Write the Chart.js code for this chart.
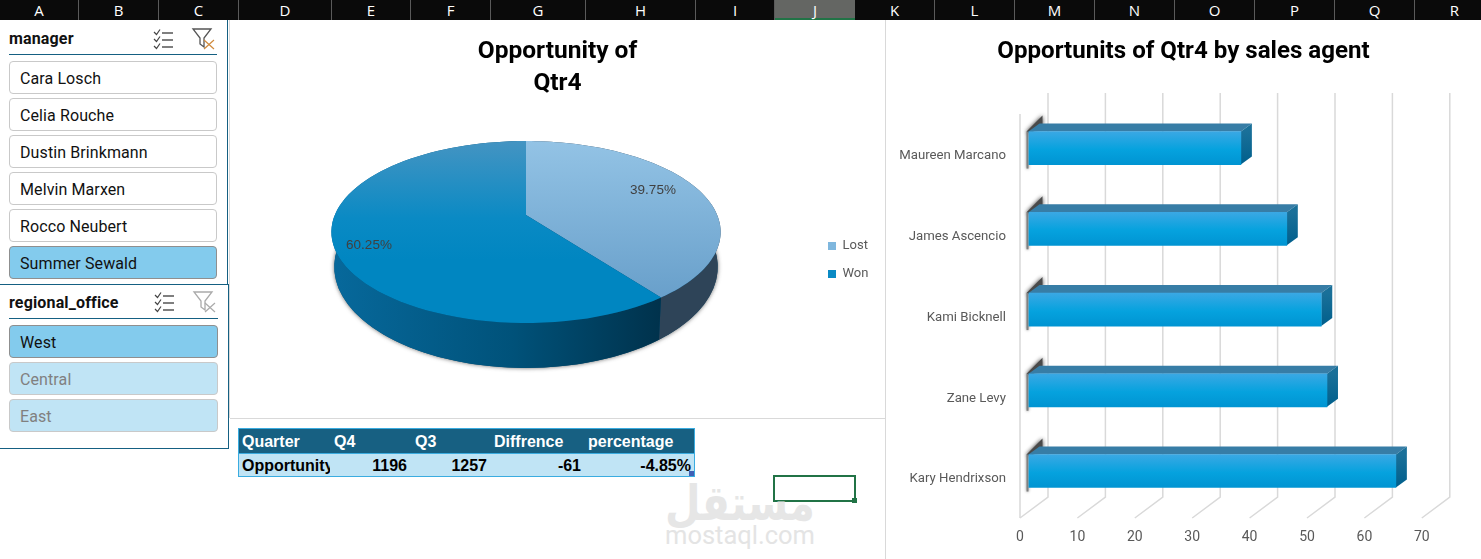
<!DOCTYPE html>
<html>
<head>
<meta charset="utf-8">
<title>Opportunity of Qtr4</title>
<script src="https://cdn.jsdelivr.net/npm/chart.js@4"></script>
<style>
  html, body { margin: 0; padding: 0; background: #fff; overflow: hidden; }
  #hoja { position: relative; width: 1481px; height: 559px; font-family: Roboto, sans-serif; overflow: hidden; }
  #hoja div, #hoja canvas, #hoja svg { position: absolute; }
  .col { top: 0; height: 20px; line-height: 20px; background: #0a0a0a; color: #fff; text-align: center;
         font: 15px/21px "Open Sans", sans-serif; box-sizing: border-box; border-right: 1px solid #5a5a5a; }
  .col.activa { background: #646663; border-right: 0; border-bottom: 2px solid #217346; }
  .item { box-sizing: border-box; height: 33px; border: 1px solid #c9c9c9; border-radius: 4px; padding-left: 10px;
          font-size: 16px; line-height: 34px; color: #111; background: #fff; letter-spacing: .1px; }
  .item.sel { background: #83cbed; border-color: #8f8f8f; }
  .item.off { background: #c0e4f5; color: #808080; }
  .slicerTitulo { font-weight: 700; font-size: 16px; color: #111; left: 9px; letter-spacing: .15px; }
  .celda { font: 700 16px/26px "Liberation Sans Narrow", sans-serif; white-space: nowrap; }
</style>
</head>
<body>
<div id="hoja">
  <canvas id="graficoPie" width="655" height="398" style="left:230px;top:20px"></canvas>
  <canvas id="graficoBarras" width="595" height="539" style="left:886px;top:20px"></canvas>
</div>

<script>
// datos de los graficos
const estados = ['Lost', 'Won'];
const porcentajes = [39.75, 60.25];

const agentes = ['Maureen Marcano', 'James Ascencio', 'Kami Bicknell', 'Zane Levy', 'Kary Hendrixson'];
const oportunidades = [37, 45, 51, 52, 64];
const oportunidadesTicks = [0, 10, 20, 30, 40, 50, 60, 70];

// segmentadores y tabla
const columnas = ['A','B','C','D','E','F','G','H','I','J','K','L','M','N','O','P','Q','R'];
const bordesColumnas = [0,79,159,239,332,411,491,586,696,775,855,935,1015,1095,1175,1255,1335,1415,1495];
const managers = ['Cara Losch', 'Celia Rouche', 'Dustin Brinkmann', 'Melvin Marxen', 'Rocco Neubert', 'Summer Sewald'];
const oficinas = ['West', 'Central', 'East'];
const encabezadoTabla = ['Quarter', 'Q4', 'Q3', 'Diffrence', 'percentage'];
const filaTabla = ['Opportunity', '1196', '1257', '-61', '-4.85%'];

const hoja = document.getElementById('hoja');

function caja(estilo, texto, clase) {
    const d = document.createElement('div');
    d.style.cssText = estilo;
    if (clase) d.className = clase;
    if (texto) d.textContent = texto;
    hoja.appendChild(d);
    return d;
}

// encabezado de columnas
columnas.forEach((c, i) => {
    const l = bordesColumnas[i], w = bordesColumnas[i + 1] - l;
    caja(`left:${l}px;width:${w}px`, c, c === 'J' ? 'col activa' : 'col');
});

// lineas de los paneles
caja('left:229px;top:20px;width:1px;height:398px;background:#d9d9d9');
caja('left:230px;top:418px;width:656px;height:1px;background:#d9d9d9');
caja('left:885px;top:20px;width:1px;height:539px;background:#d9d9d9');

// segmentador manager
caja('left:227px;top:20px;width:1px;height:264px;background:#156082');
caja('top:29px', 'manager', 'slicerTitulo');
caja('left:9px;top:54px;width:208px;height:1px;background:#156082');
managers.forEach((m, i) => {
    caja(`left:9px;top:${61 + i * 37}px;width:208px`, m, i === 5 ? 'item sel' : 'item');
});

// segmentador regional_office
caja('left:0;top:284px;width:228px;height:163px;border:1px solid #156082;border-left:0;background:#fff');
caja('top:293px', 'regional_office', 'slicerTitulo');
caja('left:9px;top:318px;width:209px;height:1px;background:#156082');
oficinas.forEach((o, i) => {
    caja(`left:9px;top:${325 + i * 37}px;width:209px`, o, i === 0 ? 'item sel' : 'item off');
});

// iconos de los segmentadores
function iconos(x, y, colorFiltro, colorX) {
    const svg = `<svg xmlns="http://www.w3.org/2000/svg" width="64" height="22" style="left:${x}px;top:${y}px;position:absolute">
      <path d="M1 4l2.5 2.5L7 1.5M1 11l2.5 2.5L7 8.5M1 18l2.5 2.5L7 15.5" fill="none" stroke="#444" stroke-width="1.2"/>
      <path d="M9 5h11M9 12h11M9 19h11" stroke="#555" stroke-width="1.6"/>
      <path d="M40 1h18l-7 9v9l-4-3v-6z" fill="none" stroke="${colorFiltro}" stroke-width="1.3"/>
      <path d="M51 12l10 9M61 12l-10 9" stroke="${colorX}" stroke-width="1.2"/>
    </svg>`;
    hoja.insertAdjacentHTML('beforeend', svg);
}
iconos(153, 28, '#555', '#d08a3c');
iconos(154, 291, '#aaa', '#aaa');

// tabla Q4 vs Q3
caja('left:238px;top:428px;width:457px;height:25px;background:#176082;border:1px solid #3aace0;border-bottom:0;box-sizing:border-box');
caja('left:238px;top:453px;width:457px;height:24px;background:#c0e4f5;border:1px solid #3aace0;box-sizing:border-box');
const xEncabezado = [242, 334, 415, 494, 588];
encabezadoTabla.forEach((t, i) => {
    caja(`left:${xEncabezado[i]}px;top:429px;color:#fff`, t, 'celda');
});
const derechaFila = [0, 1074, 994, 900, 790];
filaTabla.forEach((t, i) => {
    if (i === 0) caja('left:242px;top:453px;width:88px;overflow:hidden;color:#000', t, 'celda');
    else caja(`right:${derechaFila[i]}px;top:453px;color:#000`, t, 'celda');
});
caja('left:689px;top:471px;width:5px;height:5px;background:#3f5fb5');

// celda activa
caja('left:773px;top:475px;width:83px;height:27px;border:2px solid #217346;box-sizing:border-box');
caja('left:852px;top:498px;width:5px;height:5px;background:#217346');

// marca de agua
caja('left:664px;top:478px;width:152px;text-align:center;color:#e6e6e6;font:700 41px/50px "DejaVu Sans",sans-serif;transform:scaleY(1.2)', 'مستقل');
caja('left:640px;top:521px;width:200px;text-align:center;color:#e4e4e4;font:400 25.5px/28px Roboto,sans-serif', 'mostaql.com');

// ---- pie con perspectiva ----
const pieCentroX = 296, pieCentroY = 195;   // vertice del pie dentro del canvas
const pieFuga = 0.187, pieRadioX = 191.2, pieRadioY = 87.8;
const pieAlto = 97.5 / 87.8;

function puntoPie(angulo, base) {
    const u = Math.cos(angulo), v = Math.sin(angulo);
    const w = 1 - pieFuga * v;
    if (base) {
        return [pieCentroX + 0.985 * pieRadioX * u / w, pieCentroY + 33 + pieRadioY * pieAlto * v / w];
    }
    return [pieCentroX + pieRadioX * u / w, pieCentroY + pieRadioY * v / w];
}

function trazarBorde(ctx, ini, fin, base) {
    const pasos = 80;
    for (let i = 0; i <= pasos; i++) {
        const p = puntoPie(ini + (fin - ini) * i / pasos, base);
        ctx.lineTo(p[0], p[1]);
    }
}

const pie3d = {
    id: 'pie3d',
    afterLayout(chart) {
        // leyenda a la altura de la base del pie
        const l = chart.legend;
        l.left = 583; l.right = 650;
        l.top += 41; l.bottom += 41;
    },
    beforeDatasetsDraw(chart) {
        const ctx = chart.ctx;
        const arcos = chart.getDatasetMeta(0).data;

        // sombra bajo la pared
        ctx.save();
        ctx.shadowColor = 'rgba(60,60,60,.8)';
        ctx.shadowBlur = 4;
        ctx.fillStyle = '#00486e';
        ctx.beginPath();
        trazarBorde(ctx, 0, Math.PI * 2, true);
        ctx.fill();
        ctx.restore();

        // paredes
        const gradPared = ctx.createLinearGradient(100, 0, 430, 0);
        gradPared.addColorStop(0, '#07699c');
        gradPared.addColorStop(0.55, '#00527a');
        gradPared.addColorStop(1, '#00324c');
        const paredes = ['#2e4458', gradPared];
        arcos.forEach((a, i) => {
            ctx.beginPath();
            trazarBorde(ctx, a.startAngle, a.endAngle, false);
            trazarBorde(ctx, a.endAngle, a.startAngle, true);
            ctx.closePath();
            ctx.fillStyle = paredes[i];
            ctx.fill();
        });

        // cara superior
        const gradLost = ctx.createLinearGradient(0, 121, 0, 280);
        gradLost.addColorStop(0, '#93c3e5');
        gradLost.addColorStop(1, '#689fca');
        const gradWon = ctx.createLinearGradient(0, 121, 0, 240);
        gradWon.addColorStop(0, '#4494c2');
        gradWon.addColorStop(0.65, '#0a8ac4');
        gradWon.addColorStop(1, '#0086c1');
        const caras = [gradLost, gradWon];
        arcos.forEach((a, i) => {
            ctx.beginPath();
            ctx.moveTo(pieCentroX, pieCentroY);
            trazarBorde(ctx, a.startAngle, a.endAngle, false);
            ctx.closePath();
            ctx.fillStyle = caras[i];
            ctx.fill();
        });

        // etiquetas de porcentaje
        const posEtiquetas = [[423, 170.5], [139, 225.5]];
        ctx.fillStyle = '#404040';
        ctx.font = '13.5px "Liberation Sans", sans-serif';
        ctx.textAlign = 'center';
        ctx.textBaseline = 'middle';
        porcentajes.forEach((p, i) => {
            ctx.fillText(p.toFixed(2) + '%', posEtiquetas[i][0], posEtiquetas[i][1]);
        });
        return false;
    }
};

new Chart(document.getElementById('graficoPie'), {
    type: 'pie',
    data: {
        labels: estados,
        datasets: [{ data: porcentajes, backgroundColor: ['#7fb7de', '#0a8ac4'], borderWidth: 0 }]
    },
    plugins: [pie3d],
    options: {
        responsive: false,
        animation: false,
        devicePixelRatio: 1,
        plugins: {
            tooltip: { enabled: false },
            title: {
                display: true,
                text: ['Opportunity of', 'Qtr4'],
                color: '#000',
                font: { family: 'Roboto', size: 24.5, weight: '700', lineHeight: 1.3 },
                padding: { top: 16, bottom: 10 }
            },
            legend: {
                position: 'right',
                labels: {
                    boxWidth: 8, boxHeight: 8, padding: 15,
                    color: '#595959',
                    font: { family: 'Roboto', size: 13 }
                }
            }
        }
    }
});

// ---- barras 3D ----
const fondoX = 19.5, sueloX = -8.5;         // desplazamiento de pared y suelo
const fondoArriba = 73, fondoAbajo = 477, sueloAbajo = 498;
const profX = 11, profY = -8;
const margenDerecho = 50.7;

const barras3d = {
    id: 'barras3d',
    afterLayout(chart) {
        // el titulo se centra en todo el canvas, no solo en el area de barras
        chart.titleBlock.left += margenDerecho / 2;
        chart.titleBlock.right += margenDerecho / 2;
    },
    beforeDatasetsDraw(chart) {
        const ctx = chart.ctx;
        const x = chart.scales.x;

        // cuadricula en pared y suelo
        ctx.save();
        ctx.strokeStyle = '#d9d9d9';
        ctx.lineWidth = 1.5;
        oportunidadesTicks.forEach(v => {
            const px = x.getPixelForValue(v);
            ctx.beginPath();
            ctx.moveTo(px + fondoX, fondoArriba);
            ctx.lineTo(px + fondoX, fondoAbajo);
            ctx.lineTo(px + sueloX, sueloAbajo);
            ctx.stroke();
        });
        // pared izquierda
        const px0 = x.getPixelForValue(0) + sueloX;
        ctx.beginPath();
        ctx.moveTo(px0, 94);
        ctx.lineTo(px0, sueloAbajo);
        ctx.stroke();
        ctx.restore();

        // sombra y caras de profundidad de cada barra
        chart.getDatasetMeta(0).data.forEach(b => {
            const arriba = b.y - b.height / 2, abajo = b.y + b.height / 2;

            ctx.save();
            ctx.shadowColor = 'rgba(30,30,30,.9)';
            ctx.shadowBlur = 4;
            ctx.fillStyle = '#4a4a4a';
            ctx.beginPath();
            ctx.moveTo(b.base - 2, arriba);
            ctx.lineTo(b.base + 14, arriba - 16);
            ctx.lineTo(b.base + 14, arriba - 6);
            ctx.lineTo(b.base + 2, arriba + 2);
            ctx.closePath();
            ctx.fill();
            ctx.shadowColor = 'rgba(60,60,60,.7)';
            ctx.shadowBlur = 3;
            ctx.fillStyle = '#808080';
            ctx.fillRect(b.base - 2, arriba, 2, b.height + 4);
            ctx.restore();

            ctx.fillStyle = '#377da6';
            ctx.beginPath();
            ctx.moveTo(b.base, arriba);
            ctx.lineTo(b.base + profX, arriba + profY);
            ctx.lineTo(b.x + profX, arriba + profY);
            ctx.lineTo(b.x, arriba);
            ctx.closePath();
            ctx.fill();

            const g = ctx.createLinearGradient(0, arriba, 0, abajo);
            g.addColorStop(0, '#1a7099');
            g.addColorStop(1, '#005f8c');
            ctx.fillStyle = g;
            ctx.beginPath();
            ctx.moveTo(b.x, arriba);
            ctx.lineTo(b.x + profX, arriba + profY);
            ctx.lineTo(b.x + profX, abajo + profY);
            ctx.lineTo(b.x, abajo);
            ctx.closePath();
            ctx.fill();
        });
    }
};

new Chart(document.getElementById('graficoBarras'), {
    type: 'bar',
    data: {
        labels: agentes,
        datasets: [{
            data: oportunidades,
            barThickness: 33,
            borderWidth: 0,
            backgroundColor: function (c) {
                const y = c.chart.scales.y ? c.chart.scales.y.getPixelForValue(c.dataIndex) : NaN;
                if (!Number.isFinite(y)) return '#05a0dc';
                const g = c.chart.ctx.createLinearGradient(0, y - 16.5, 0, y + 16.5);
                g.addColorStop(0, '#3aa8e4');
                g.addColorStop(0.55, '#05a2de');
                g.addColorStop(1, '#0094d2');
                return g;
            }
        }]
    },
    plugins: [barras3d],
    options: {
        indexAxis: 'y',
        responsive: false,
        animation: false,
        devicePixelRatio: 1,
        layout: { padding: { right: margenDerecho } },
        plugins: {
            legend: { display: false },
            tooltip: { enabled: false },
            title: {
                display: true,
                text: 'Opportunits of Qtr4 by sales agent',
                color: '#000',
                font: { family: 'Roboto', size: 24.1, weight: '700', lineHeight: 1.2 },
                padding: { top: 18, bottom: 40.8 }
            }
        },
        scales: {
            x: {
                min: 0,
                max: 70,
                border: { display: false },
                grid: { display: false, drawTicks: false },
                ticks: {
                    stepSize: 10,
                    maxRotation: 0,
                    labelOffset: sueloX,
                    padding: 18,
                    color: '#595959',
                    font: { family: 'Roboto', size: 14 }
                },
                afterFit(s) { s.height = 47.6; }
            },
            y: {
                border: { display: false },
                grid: { display: false, drawTicks: false },
                ticks: {
                    labelOffset: 8,
                    padding: 22.5,
                    color: '#595959',
                    font: { family: 'Roboto', size: 13.2 }
                },
                afterFit(s) { s.width = 142.5; }
            }
        }
    }
});
</script>
</body>
</html>
